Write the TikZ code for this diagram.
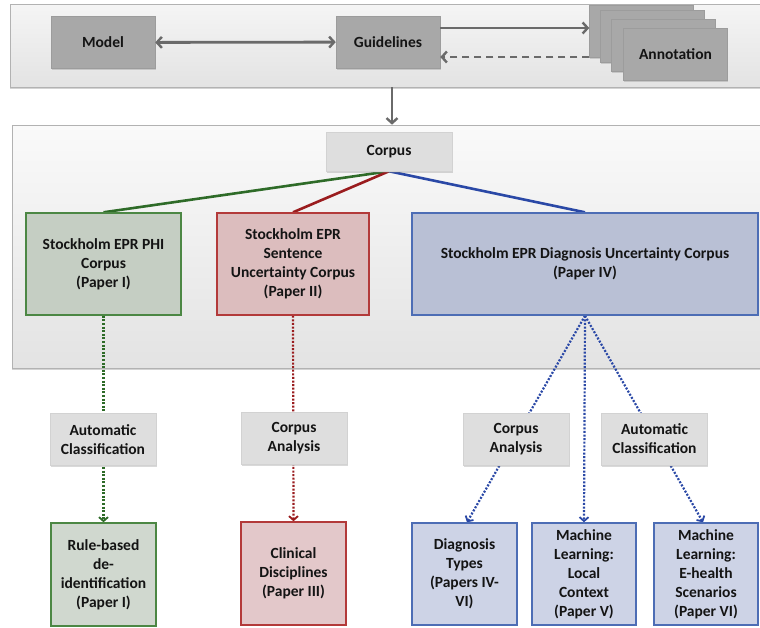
\documentclass[tikz,border=0pt]{standalone}
\usepackage{fontspec}
\setmainfont{Carlito}
\usetikzlibrary{arrows.meta,shadows}
\definecolor{txt}{HTML}{141414}
\definecolor{arrgray}{HTML}{6A6A6A}
\definecolor{darkfill}{HTML}{A8A8A8}
\definecolor{darkdraw}{HTML}{9C9C9C}
\definecolor{lightfill}{HTML}{DEDEDE}
\definecolor{lightdraw}{HTML}{D2D2D2}
\definecolor{gfill}{HTML}{C5CEC3}
\definecolor{gdraw}{HTML}{4C8744}
\definecolor{gline}{HTML}{2E6B28}
\definecolor{rfill}{HTML}{DCBDBE}
\definecolor{rdraw}{HTML}{B33A3A}
\definecolor{rline}{HTML}{9A1C1E}
\definecolor{bfill}{HTML}{B9C0D5}
\definecolor{bdraw}{HTML}{4D6DB5}
\definecolor{bline}{HTML}{2A48A6}
\definecolor{g2fill}{HTML}{D0D8CF}
\definecolor{r2fill}{HTML}{E3C8CA}
\definecolor{b2fill}{HTML}{CDD3E6}
\pgfdeclarelayer{bg}
\pgfdeclarelayer{edges}
\pgfsetlayers{bg,edges,main}
\begin{document}
\begin{tikzpicture}[x=1pt,y=-1pt,
  every node/.style={font=\bfseries\fontsize{15.5}{19}\selectfont, text=txt, align=center, inner sep=2pt},
  panel/.style={draw=black!30, line width=0.6pt, top color=#1, bottom color=black!11, drop shadow={shadow xshift=0pt, shadow yshift=-1.5pt, opacity=0.35}},
  darkbox/.style={draw=darkdraw, fill=darkfill, line width=0.5pt, minimum width=104pt, minimum height=52pt, drop shadow={shadow xshift=0.8pt, shadow yshift=-1.5pt, opacity=0.3}},
  lightbox/.style={draw=lightdraw, fill=lightfill, line width=0.5pt, minimum width=106pt, minimum height=52pt, drop shadow={shadow xshift=0.5pt, shadow yshift=-1.5pt, opacity=0.3}},
  colbox/.style={draw=#1, line width=1.4pt},
  arr/.style={draw=arrgray, line width=2.8pt, -{Straight Barb[length=5pt,width=11pt,line width=2.4pt]}},
  darr/.style={draw=arrgray, line width=2.8pt, {Straight Barb[length=5pt,width=11pt,line width=2.4pt]}-{Straight Barb[length=5pt,width=11pt,line width=2.4pt]}},
  dotarr/.style={draw=#1, line width=2.2pt, dash pattern=on 2pt off 1.6pt, -{Straight Barb[length=4pt,width=9pt,line width=1.8pt]}},
  tree/.style={draw=#1, line width=2.6pt}
]
\useasboundingbox (0,0) rectangle (760,627);
\clip (0,0) rectangle (760,627);

\begin{pgfonlayer}{bg}
\node[panel=black!4, minimum width=770pt, minimum height=83pt, inner sep=0pt] (toppanel) at (395,45.5) {};
\node[panel=black!2, minimum width=770pt, minimum height=243pt, inner sep=0pt] (midpanel) at (397,246.5) {};
\end{pgfonlayer}

% top row
\node[darkbox] (model) at (103,42.5) {Model};
\node[darkbox] (guide) at (388,42) {Guidelines};
\node[darkbox] (ann1) at (641.5,31) {};
\node[darkbox] (ann2) at (652.5,36.5) {};
\node[darkbox] (ann3) at (663,45.5) {};
\node[darkbox] (ann) at (675.5,54) {Annotation};

\draw[darr] (model) -- (guide);
\draw[arr] ([yshift=14pt]guide.east) -- ([yshift=14pt]guide.east -| ann1.west);
\draw[arr, dash pattern=on 7pt off 5pt] ([yshift=-15pt]guide.east -| ann1.west) -- ([yshift=-15pt]guide.east);
\draw[arr] (toppanel.south -| 392,0) -- (midpanel.north -| 392,0);

% corpus tree
\node[lightbox, minimum width=126pt, minimum height=39pt] (corpus) at (389,151.5) {Corpus};
\node[colbox=gdraw, fill=gfill, minimum width=155pt, minimum height=102pt] (phi) at (103.5,264) {Stockholm EPR PHI\\Corpus\\(Paper I)};
\node[colbox=rdraw, fill=rfill, minimum width=152pt, minimum height=102pt] (sent) at (293,264) {Stockholm EPR\\Sentence\\Uncertainty Corpus\\(Paper II)};
\node[colbox=bdraw, fill=bfill, minimum width=346pt, minimum height=102pt] (diag) at (585,264) {Stockholm EPR Diagnosis Uncertainty Corpus\\(Paper IV)};

% method labels
\node[lightbox] (ac1) at (103,439.5) {Automatic\\Classification};
\node[lightbox] (ca1) at (294,438) {Corpus\\Analysis};
\node[lightbox] (ca2) at (516,439) {Corpus\\Analysis};
\node[lightbox] (ac2) at (654.5,439) {Automatic\\Classification};

% results
\node[colbox=gdraw, fill=g2fill, minimum width=105pt, minimum height=103pt] (rule) at (103.5,574.5) {Rule-based\\de-\\identification\\(Paper I)};
\node[colbox=rdraw, fill=r2fill, minimum width=105pt, minimum height=103pt] (clin) at (293.5,573.5) {Clinical\\Disciplines\\(Paper III)};
\node[colbox=bdraw, fill=b2fill, minimum width=105pt, minimum height=102pt] (dtypes) at (464.5,574) {Diagnosis\\Types\\(Papers IV-\\VI)};
\node[colbox=bdraw, fill=b2fill, minimum width=104pt, minimum height=102pt] (local) at (584,574) {Machine\\Learning:\\Local\\Context\\(Paper V)};
\node[colbox=bdraw, fill=b2fill, minimum width=104pt, minimum height=102pt] (ehealth) at (706,574) {Machine\\Learning:\\E-health\\Scenarios\\(Paper VI)};

\begin{pgfonlayer}{edges}
\draw[tree=gline] (corpus.south) -- (phi.north);
\draw[tree=rline] (corpus.south) -- (sent.north);
\draw[tree=bline] (corpus.south) -- (diag.north);
\draw[dotarr=gline] (phi.south) -- (rule.north);
\draw[dotarr=rline] (sent.south) -- (clin.north);
\draw[dotarr=bline] (diag.south) -- ([xshift=2.5pt]dtypes.north);
\draw[dotarr=bline] (diag.south) -- (local.north);
\draw[dotarr=bline] (diag.south) -- ([xshift=-3pt]ehealth.north);
\end{pgfonlayer}
\end{tikzpicture}
\end{document}
